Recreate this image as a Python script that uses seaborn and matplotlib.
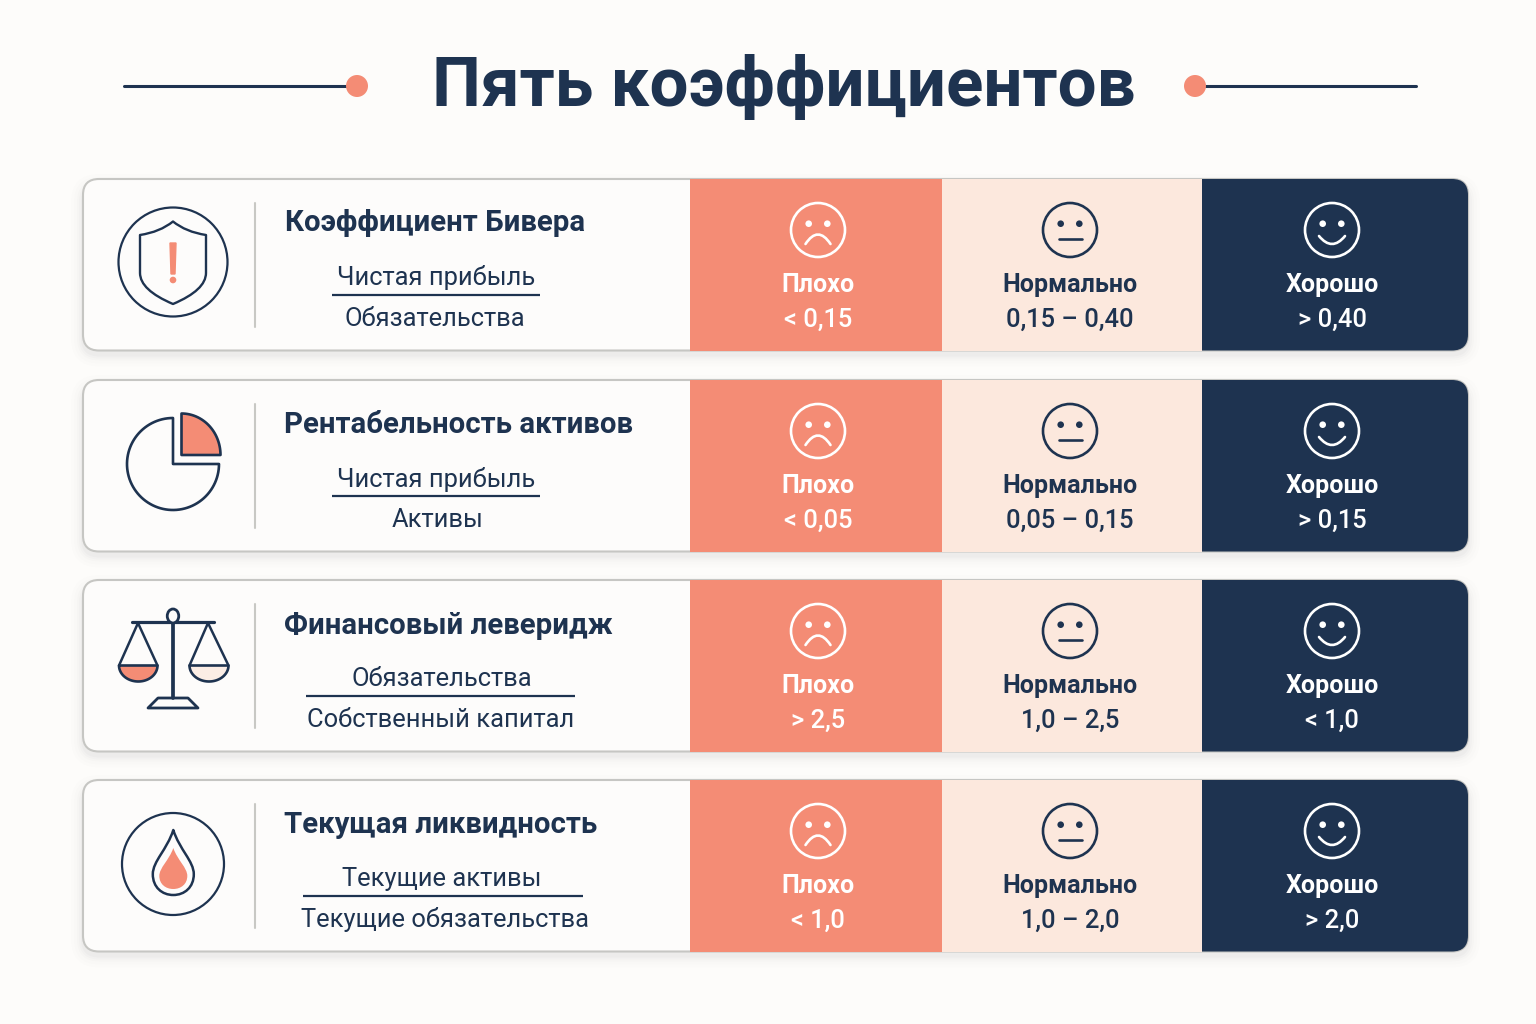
import numpy as np
import pandas as pd
import seaborn as sns
import matplotlib
matplotlib.use("Agg")
import matplotlib.pyplot as plt
from matplotlib.patches import Circle, Ellipse, FancyBboxPatch, PathPatch, Polygon
from matplotlib.path import Path

# ---------- content ----------
TITLE = "Пять коэффициентов"
NAMES = ["Коэффициент Бивера", "Рентабельность активов", "Финансовый леверидж", "Текущая ликвидность"]
NUMERATORS = ["Чистая прибыль", "Чистая прибыль", "Обязательства", "Текущие активы"]
DENOMINATORS = ["Обязательства", "Активы", "Собственный капитал", "Текущие обязательства"]
ZONE_LABELS = ["Плохо", "Нормально", "Хорошо"]
BAD_VALUES = ["< 0,15", "< 0,05", "> 2,5", "< 1,0"]
NORMAL_VALUES = ["0,15 – 0,40", "0,05 – 0,15", "1,0 – 2,5", "1,0 – 2,0"]
GOOD_VALUES = ["> 0,40", "> 0,15", "< 1,0", "> 2,0"]

# ---------- layout (pixels) ----------
ROW_TOPS = [179, 380, 580, 780]
CARD_H = 171.5
CARD_L, CARD_R = 83, 1468
ZONE_EDGES = [690, 942, 1202, 1468]
FACE_X = [818, 1070, 1332]
NAME_X = [285, 284, 284, 284]
NAME_DY = [44, 45, 46, 45]
FRAC_NUM_X = [436, 436, 442, 442]
FRAC_DEN_X = [435, 438, 441, 445]
FRAC_LINE = [(332, 540), (332, 540), (306, 575), (303, 583)]

# ---------- colours ----------
BG = "#FDFCFA"
NAVY = "#1E3350"
CORAL = "#F48C75"
PEACH = "#FCE8DD"
BORDER = "#C6C6C3"
CARD = "#FDFCFB"

sns.set_theme(style="white")
plt.rcParams["font.family"] = ["Roboto", "DejaVu Sans"]

fig = plt.figure(figsize=(15.36, 10.24), dpi=100, facecolor=BG)
ax = fig.add_axes([0, 0, 1, 1])
ax.set_facecolor(BG)


def rounded(x0, y0, x1, y1, r, **kw):
    return FancyBboxPatch((x0, y0), x1 - x0, y1 - y0,
                          boxstyle=f"round,pad=0,rounding_size={r}", **kw)


def line(xs, ys, color=NAVY, lw=2.0, **kw):
    ax.plot(xs, ys, color=color, lw=lw, solid_capstyle=kw.pop("cap", "round"), zorder=kw.pop("zorder", 6), **kw)


def stroke(verts, codes, fc="none", ec=NAVY, lw=1.7, z=6):
    ax.add_patch(PathPatch(Path(verts, codes), fc=fc, ec=ec, lw=lw, zorder=z, capstyle="round", joinstyle="round"))


M, L, C3, C4, CL = Path.MOVETO, Path.LINETO, Path.CURVE3, Path.CURVE4, Path.CLOSEPOLY

# ---------- cards and shadows ----------
for top in ROW_TOPS:
    bottom = top + CARD_H
    for spread, alpha in zip([12, 9, 6, 4, 2], [0.006, 0.009, 0.012, 0.016, 0.024]):
        ax.add_patch(rounded(CARD_L - spread, top - spread + 7, CARD_R + spread, bottom + spread + 4,
                             16 + spread, fc="#30353A", ec="none", alpha=alpha, zorder=1))
    ax.add_patch(rounded(CARD_L, top, CARD_R, bottom, 16, fc=CARD, ec=BORDER, lw=1.5, zorder=2))

# ---------- zone bands, through seaborn ----------
zone_colors = [CORAL, PEACH, NAVY]
centers = [t + CARD_H / 2 for t in ROW_TOPS]
for z, col in enumerate(zone_colors):
    before = len(ax.patches)
    df = pd.DataFrame({"row": centers,
                       "width": [ZONE_EDGES[z + 1] - ZONE_EDGES[z]] * len(centers)})
    sns.barplot(data=df, x="width", y="row", orient="y", native_scale=True, color=col,
                saturation=1, width=CARD_H / 200.0, left=ZONE_EDGES[z], linewidth=0,
                errorbar=None, ax=ax, zorder=3)
    new_bars = ax.patches[before:]
    if z == 2:
        for bar, top in zip(new_bars, ROW_TOPS):
            clip = rounded(CARD_L, top, CARD_R, top + CARD_H, 16, transform=ax.transData)
            bar.set_clip_path(clip)

ax.set_xlim(0, 1536)
ax.set_ylim(1024, 0)
ax.axis("off")

# ---------- title ----------
ax.text(784, 87, TITLE, ha="center", va="center", fontsize=49.8, fontweight="bold", color=NAVY, zorder=6)
line([124, 350], [86, 86], lw=2.2)
line([1200, 1416], [86, 86], lw=2.2)
ax.add_patch(Circle((357, 86), 11, fc=CORAL, ec="none", zorder=7))
ax.add_patch(Circle((1195, 86), 11, fc=CORAL, ec="none", zorder=7))


# ---------- faces ----------
def face(cx, cy, kind, col):
    ax.add_patch(Circle((cx, cy), 27, fc="none", ec=col, lw=1.9, zorder=6))
    for s in (-1, 1):
        ax.add_patch(Circle((cx + s * 9.3, cy - 6.3), 3.3, fc=col, ec="none", zorder=6))
    if kind == 0:
        stroke([(cx - 12.5, cy + 14), (cx, cy - 5), (cx + 12.5, cy + 14)], [M, C3, C3], ec=col, lw=1.9)
    elif kind == 1:
        line([cx - 11.5, cx + 11.5], [cy + 9, cy + 9], color=col, lw=1.9)
    else:
        stroke([(cx - 13, cy + 6), (cx, cy + 22), (cx + 13, cy + 6)], [M, C3, C3], ec=col, lw=1.9)


# ---------- icons ----------
def icon_shield():
    ax.add_patch(Circle((173, 262), 54.5, fc="none", ec=NAVY, lw=1.6, zorder=6))
    stroke([(173, 221.5), (160, 232), (140, 235), (140, 235), (140, 273), (140, 290), (173, 304),
            (206, 290), (206, 273), (206, 235), (206, 235), (186, 232), (173, 221.5), (173, 221.5)],
           [M, C3, C3, L, L, C3, C3, C3, C3, L, L, C3, C3, CL])
    ax.add_patch(Polygon([(170, 243), (176, 243), (175, 274), (171, 274)], fc=CORAL, ec=CORAL, lw=1, zorder=6))
    ax.add_patch(Circle((173, 280), 3.3, fc=CORAL, ec="none", zorder=6))


def icon_pie():
    cx, cy, r = 173, 464, 46
    a = np.linspace(-np.pi / 2, -2 * np.pi - 0.0, 80)
    verts = [(cx, cy)] + list(zip(cx + r * np.cos(a), cy + r * np.sin(a))) + [(cx, cy)]
    codes = [M] + [L] * 80 + [CL]
    stroke(verts, codes, lw=1.9)
    sx, sy, sr = 181.5, 455, 39
    b = np.linspace(-np.pi / 2, 0, 30)
    verts = [(sx, sy)] + list(zip(sx + sr * np.cos(b), sy + 41.5 / 39 * sr * np.sin(b))) + [(sx, sy)]
    stroke(verts, [M] + [L] * 30 + [CL], fc=CORAL, lw=1.9)


def icon_scales():
    line([132, 214], [622, 622], lw=2.3)
    line([173, 173], [622, 698], lw=2.7)
    ax.add_patch(Ellipse((173, 616), 11.5, 14, fc=CARD, ec=NAVY, lw=2.0, zorder=7))
    ax.add_patch(Polygon([(158, 698), (188, 698), (198, 708), (148, 708)], fc="none", ec=NAVY, lw=2.0, zorder=6, joinstyle="round"))
    for apex, x0, x1, fill in [(138, 119, 157.5, CORAL), (208, 189.5, 228.5, "#FBEDE5")]:
        line([x0, apex, x1], [665.5, 623, 665.5], lw=1.8)
        mid = (x0 + x1) / 2
        t = np.linspace(np.pi, 0, 40)
        rx = (x1 - x0) / 2
        verts = [(x0, 665.5)] + list(zip(mid + rx * np.cos(t), 665.5 + 16 * np.sin(t))) + [(x0, 665.5)]
        stroke(verts, [M] + [L] * 40 + [CL], fc=fill, lw=1.9)


def drop(cx, tip, bot, half, **kw):
    h = bot - tip
    verts = [(cx, tip), (cx - half * 0.3, tip + h * 0.3), (cx - half, tip + h * 0.48), (cx - half, tip + h * 0.68),
             (cx - half, tip + h * 0.88), (cx - half * 0.55, bot), (cx, bot),
             (cx + half * 0.55, bot), (cx + half, tip + h * 0.88), (cx + half, tip + h * 0.68),
             (cx + half, tip + h * 0.48), (cx + half * 0.3, tip + h * 0.3), (cx, tip), (cx, tip)]
    codes = [M] + [C4] * 12 + [CL]
    stroke(verts, codes, **kw)


def icon_drop():
    ax.add_patch(Circle((173, 864), 51, fc="none", ec=NAVY, lw=1.6, zorder=6))
    drop(173.3, 830, 895, 20.5, lw=1.8)
    drop(173.3, 848, 889, 14, fc=CORAL, ec="none", lw=0)


icons = [icon_shield, icon_pie, icon_scales, icon_drop]
value_sets = [BAD_VALUES, NORMAL_VALUES, GOOD_VALUES]
face_colors = ["white", NAVY, "white"]

for i, top in enumerate(ROW_TOPS):
    icons[i]()
    line([255, 255], [top + 24, top + 148], color="#C8C8C4", lw=1.5, zorder=4)
    ax.text(NAME_X[i], top + NAME_DY[i], NAMES[i], ha="left", va="center", fontsize=21.2,
            fontweight="bold", color=NAVY, zorder=6)
    ax.text(FRAC_NUM_X[i], top + 99, NUMERATORS[i], ha="center", va="center", fontsize=18.4,
            color=NAVY, zorder=6)
    line(list(FRAC_LINE[i]), [top + 116, top + 116], lw=1.6, cap="butt")
    ax.text(FRAC_DEN_X[i], top + 140, DENOMINATORS[i], ha="center", va="center", fontsize=18.4,
            color=NAVY, zorder=6)
    for z in range(3):
        face(FACE_X[z], top + 51, z, face_colors[z])
        ax.text(FACE_X[z], top + 106, ZONE_LABELS[z], ha="center", va="center", fontsize=18.0,
                fontweight="bold", color=face_colors[z], zorder=6)
        ax.text(FACE_X[z], top + 141, value_sets[z][i], ha="center", va="center", fontsize=18.4,
                fontweight="medium", color=face_colors[z], zorder=6)

fig.savefig("out.png", dpi=100, facecolor=BG)
